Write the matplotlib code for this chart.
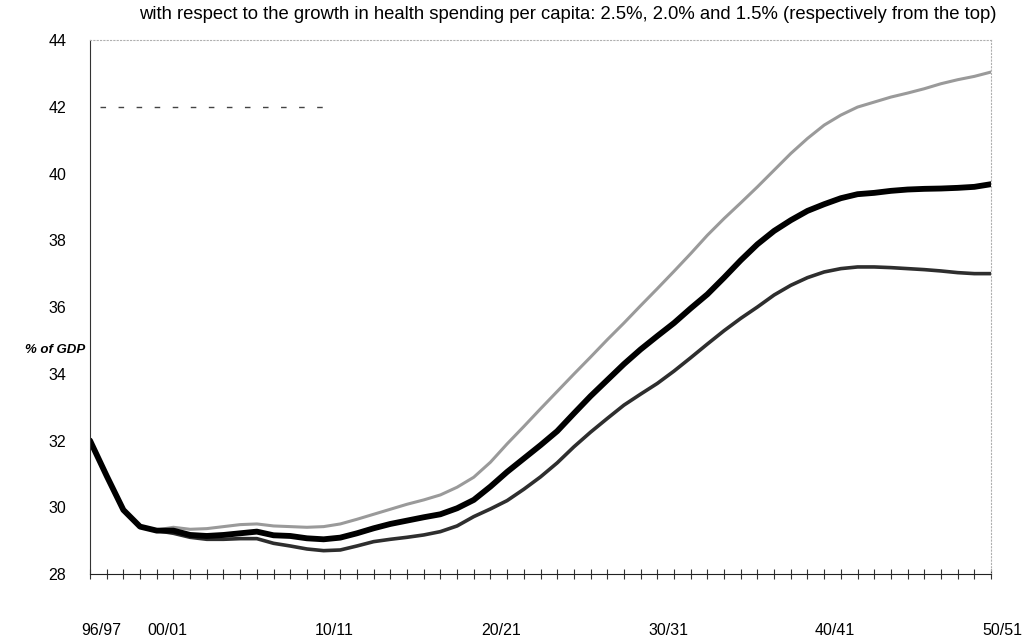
import matplotlib.pyplot as plt
import numpy as np
from matplotlib import transforms

plt.rcParams['font.family'] = ['Liberation Sans', 'DejaVu Sans']

# Fiscal years 96/97 .. 50/51 (start year)
years = list(range(1996, 2051))

# Growth in health spending per capita: 2.5%
high = [32.00, 30.94, 29.92, 29.42, 29.32, 29.40, 29.34, 29.36, 29.42, 29.48,
        29.50, 29.44, 29.42, 29.40, 29.42, 29.50, 29.64, 29.79, 29.94, 30.09,
        30.22, 30.37, 30.60, 30.90, 31.35, 31.90, 32.42, 32.95, 33.47, 33.99,
        34.50, 35.02, 35.52, 36.04, 36.55, 37.07, 37.60, 38.15, 38.65, 39.12,
        39.60, 40.10, 40.60, 41.05, 41.45, 41.75, 41.99, 42.14, 42.29, 42.41,
        42.54, 42.69, 42.81, 42.91, 43.04]
# 2.0%
mid = [32.00, 30.94, 29.92, 29.42, 29.30, 29.30, 29.17, 29.14, 29.17, 29.22,
       29.27, 29.16, 29.14, 29.07, 29.04, 29.09, 29.22, 29.37, 29.50, 29.60,
       29.70, 29.79, 29.97, 30.22, 30.62, 31.06, 31.46, 31.86, 32.28, 32.81,
       33.33, 33.81, 34.29, 34.73, 35.13, 35.52, 35.96, 36.38, 36.88, 37.40,
       37.88, 38.28, 38.60, 38.88, 39.08, 39.26, 39.38, 39.42, 39.48, 39.52,
       39.54, 39.55, 39.57, 39.60, 39.68]
# 1.5%
low = [32.00, 30.94, 29.92, 29.42, 29.30, 29.22, 29.10, 29.04, 29.04, 29.06,
       29.06, 28.92, 28.84, 28.75, 28.70, 28.72, 28.84, 28.97, 29.04, 29.10,
       29.17, 29.27, 29.44, 29.72, 29.95, 30.20, 30.54, 30.91, 31.33, 31.81,
       32.25, 32.66, 33.06, 33.39, 33.71, 34.08, 34.48, 34.89, 35.29, 35.66,
       36.00, 36.36, 36.65, 36.88, 37.05, 37.15, 37.20, 37.20, 37.18, 37.15,
       37.12, 37.08, 37.03, 37.00, 37.00]

ref_x = [1996.6, 2010.3]
ref_y = [42, 42]

label_years = [1996, 2000, 2010, 2020, 2030, 2040, 2050]
label_text = ['96/97', '00/01', '10/11', '20/21', '30/31', '40/41', '50/51']
y_ticks = [28, 30, 32, 34, 36, 38, 40, 42, 44]

fig = plt.figure(figsize=(10.32, 6.42), dpi=100)
ax = fig.add_axes([0.0872, 0.1059, 0.8731, 0.8318])

ax.plot(ref_x, ref_y, color='#444444', linewidth=1, linestyle=(0, (4, 9)))
ax.plot(years, high, color='#9a9a9a', linewidth=2.2, solid_capstyle='round')
ax.plot(years, low, color='#2e2e2e', linewidth=2.6, solid_capstyle='round')
ax.plot(years, mid, color='black', linewidth=4.2, solid_capstyle='round')

ax.set_xlim(1996, 2050)
ax.set_ylim(28, 44)

# spines
ax.spines['left'].set_color('#333333')
ax.spines['bottom'].set_color('#222222')
for s in ['top', 'right']:
    ax.spines[s].set_color('#b0b0b0')
    ax.spines[s].set_linestyle((0, (1, 2)))
    ax.spines[s].set_linewidth(0.8)

# x axis: yearly ticks, labels only for decades
ax.set_xticks(years, minor=True)
ax.tick_params(axis='x', which='minor', direction='inout', length=7, width=0.8, color='#333333')
ax.set_xticks(label_years)
ax.set_xticklabels(label_text, fontsize=11.5)
ax.tick_params(axis='x', which='major', direction='inout', length=7, width=0.8,
               color='#333333', pad=32)
offset = transforms.ScaledTranslation(11 / 100, 0, fig.dpi_scale_trans)
for lbl in ax.get_xticklabels():
    lbl.set_transform(lbl.get_transform() + offset)

ax.set_yticks(y_ticks)
ax.set_yticklabels([str(v) for v in y_ticks], fontsize=11.5)
ax.tick_params(axis='y', length=0, pad=17)

fig.text(0.024, 0.455, '% of GDP', fontsize=9.5, fontweight='bold', fontstyle='italic',
         ha='left', va='center')

fig.text(0.55, 0.978,
         'with respect to the growth in health spending per capita: 2.5%, 2.0% and 1.5% (respectively from the top)',
         fontsize=13.3, ha='center', va='center')

fig.savefig('out.png', dpi=100)
